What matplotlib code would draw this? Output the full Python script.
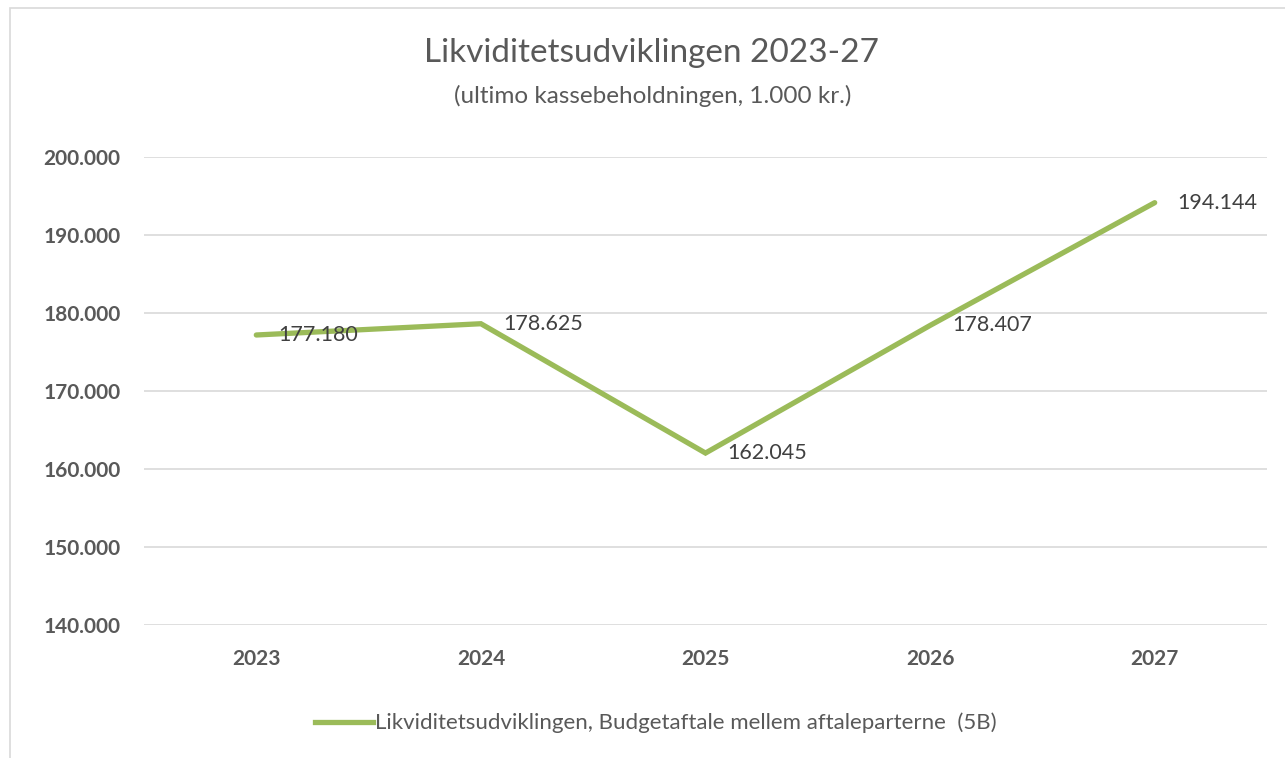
import matplotlib
matplotlib.use("Agg")
import matplotlib.pyplot as plt
from matplotlib.patches import Rectangle
from matplotlib.lines import Line2D

years = ["2023", "2024", "2025", "2026", "2027"]
values = [177180, 178625, 162045, 178407, 194144]
value_labels = ["177.180", "178.625", "162.045", "178.407", "194.144"]
yticks = [140000, 150000, 160000, 170000, 180000, 190000, 200000]
ytick_labels = ["140.000", "150.000", "160.000", "170.000", "180.000", "190.000", "200.000"]
title = "Likviditetsudviklingen 2023-27"
subtitle = "(ultimo kassebeholdningen, 1.000 kr.)"
series_name = "Likviditetsudviklingen, Budgetaftale mellem aftaleparterne  (5B)"

plt.rcParams['font.family'] = ['Lato', 'DejaVu Sans']
W, H = 1285, 758
fig = plt.figure(figsize=(W / 100, H / 100), dpi=100)

# chart border
fig.patches.append(Rectangle((10 / W, -0.05), 1.2, 1 - 8 / H + 0.05, transform=fig.transFigure,
                             fill=False, edgecolor="#d9d9d9", linewidth=1.2))

left, right = 144, 1267
top, bottom = 157, 625
ax = fig.add_axes([left / W, 1 - bottom / H, (right - left) / W, (bottom - top) / H])

color = "#9bbb59"
x = list(range(len(years)))
ax.plot(x, values, color=color, linewidth=3.8, solid_capstyle="round", solid_joinstyle="miter", zorder=3)
for xi, v, lab in zip(x, values, value_labels):
    ax.annotate(lab, (xi, v), xytext=(16, 0), textcoords="offset points", ha="left", va="center",
                fontsize=15.5, color="#404040", zorder=4)

ax.set_xlim(-0.5, len(years) - 0.5)
ax.set_ylim(140000, 200000)
ax.set_yticks(yticks)
ax.set_yticklabels(ytick_labels, fontsize=15, fontweight="bold", color="#595959")
ax.set_xticks(x)
ax.set_xticklabels(years, fontsize=15, fontweight="bold", color="#595959")
ax.tick_params(axis="both", length=0)
ax.tick_params(axis="y", pad=17)
ax.tick_params(axis="x", pad=17)
ax.grid(axis="y", color="#d9d9d9", linewidth=1.2)
ax.set_axisbelow(True)
for s in ax.spines.values():
    s.set_visible(False)

fig.text(652 / W, 1 - 53 / H, title, ha="center", va="center", fontsize=24, color="#595959")
fig.text(653 / W, 1 - 96 / H, subtitle, ha="center", va="center", fontsize=17.5, color="#595959")

handle = Line2D([0], [0], color=color, linewidth=3.8)
fig.legend([handle], [series_name], loc="center", bbox_to_anchor=(656 / W, 1 - 723 / H), frameon=False,
           fontsize=16, labelcolor="#595959", handlelength=2.6, handletextpad=0.1)

fig.savefig("out.png", dpi=100)
